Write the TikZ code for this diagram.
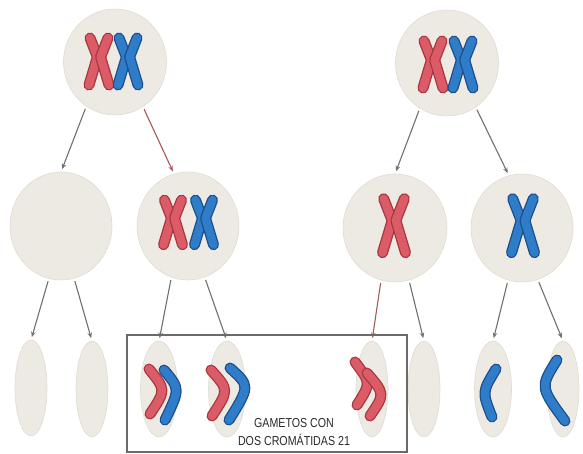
\documentclass[tikz,border=0pt]{standalone}
\usepackage{fontspec}
\setmainfont{Liberation Sans}
\usetikzlibrary{shapes.geometric,arrows.meta}

\definecolor{cellfill}{HTML}{EDEAE4}
\definecolor{cellline}{HTML}{E0DCD4}
\definecolor{redcore}{HTML}{DB5C66}
\definecolor{rededge}{HTML}{A9363F}
\definecolor{bluecore}{HTML}{2F7DC8}
\definecolor{blueedge}{HTML}{1C4E8C}
\definecolor{arrowgray}{HTML}{707070}
\definecolor{arrowred}{HTML}{A65A5A}
\definecolor{boxline}{HTML}{6A6A6A}
\definecolor{labeltext}{HTML}{2A2A2A}

\tikzset{
  cell/.style={ellipse, fill=cellfill, draw=cellline, line width=0.6pt, inner sep=0pt, outer sep=0pt},
  cellround/.style={cell, minimum width=103, minimum height=106},
  gamete/.style={cell, minimum width=32, minimum height=96},
  widegamete/.style={cell, minimum width=37, minimum height=96},
  arr/.style={draw=arrowgray, line width=1.1pt, -{Stealth[length=5.5pt,width=4.5pt]}, shorten <=3pt, shorten >=3pt},
  redarr/.style={arr, draw=arrowred},
  red edge/.style={draw=rededge, line width=11pt, line cap=round, line join=round},
  red core/.style={draw=redcore, line width=8.4pt, line cap=round, line join=round},
  blue edge/.style={draw=blueedge, line width=11pt, line cap=round, line join=round},
  blue core/.style={draw=bluecore, line width=8.4pt, line cap=round, line join=round},
  gamebox/.style={draw=boxline, line width=1.6pt},
  caption/.style={text=labeltext, font=\fontsize{13}{15}\selectfont, xscale=0.82, align=center, inner sep=0pt}
}

% one chromatid: dark rim, then its coloured body
\newcommand\strand[2]{\draw[#1 edge] #2; \draw[#1 core] #2;}
% a duplicated chromosome: two chromatids joined at the centromere
\newcommand\chromX[3]{%
  \begin{scope}[shift={#1}, scale=#3]
    \strand{#2}{(-9,-22) -- (-1.6,-3) -- (-10,25)}
    \strand{#2}{(9,-22) -- (1.6,-3) -- (10,25)}
  \end{scope}}

\begin{document}
\begin{tikzpicture}[x=1pt, y=-1pt]
  \useasboundingbox (0,0) rectangle (583,454);
  \fill[white] (0,0) rectangle (583,454);

  % cells
  \node[cellround] (pa) at (115,62) {};
  \node[cellround] (pb) at (447,63) {};
  \node[cell, minimum width=102, minimum height=108] (ma) at (61,226) {};
  \node[cell, minimum width=102, minimum height=108] (mb) at (188,226) {};
  \node[cell, minimum width=104, minimum height=108] (mc) at (395,228) {};
  \node[cell, minimum width=102, minimum height=108] (md) at (522,228) {};
  \node[gamete] (g1) at (31,388) {};
  \node[gamete] (g2) at (92,389) {};
  \node[widegamete] (g3) at (159,389) {};
  \node[widegamete] (g4) at (227,389) {};
  \node[gamete] (g5) at (372,389) {};
  \node[gamete] (g6) at (424,389) {};
  \node[widegamete] (g7) at (493,389) {};
  \node[gamete] (g8) at (563,389) {};

  % chromosomes in the dividing cells
  \chromX{(99,60)}{red}{1}
  \chromX{(128,60)}{blue}{1}
  \chromX{(433,63)}{red}{1}
  \chromX{(463,63)}{blue}{1}
  \chromX{(173,221)}{red}{0.95}
  \chromX{(204,221)}{blue}{0.95}
  \chromX{(394,224)}{red}{1.15}
  \chromX{(523,224)}{blue}{1.15}

  % single chromatids in the gametes
  \strand{red}{(149,369) .. controls (166,390) .. (150,414)}
  \strand{blue}{(164,370) .. controls (180,389) .. (165,420)}
  \strand{red}{(211,370) .. controls (229,390) .. (212,416)}
  \strand{blue}{(230,368) .. controls (250,386) .. (229,420)}
  \strand{red}{(355,362) .. controls (371,383) .. (357,405)}
  \strand{red}{(367,373) .. controls (385,394) .. (370,416)}
  \strand{blue}{(496,369) .. controls (482,392) .. (492,417)}
  \strand{blue}{(557,360) .. controls (540,387) .. (565,421)}

  % divisions
  \draw[arr] (pa.237) -- (ma.north);
  \draw[redarr] (pa.302) -- (mb.105);
  \draw[arr] (pb.239) -- (mc.north);
  \draw[arr] (pb.303) -- (md.104);
  \draw[arr] (ma.257) -- (g1.north);
  \draw[arr] (ma.284) -- (g2.north);
  \draw[arr] (mb.252) -- (g3.north);
  \draw[arr] (mb.288) -- (g4.north);
  \draw[redarr] (mc.255) -- (g5.north);
  \draw[arr] (mc.285) -- (g6.north);
  \draw[arr] (md.255) -- (g7.north);
  \draw[arr] (md.287) -- (g8.north);

  % gametes carrying two chromatids 21
  \draw[gamebox] (127,335) rectangle (407,452);
  \node[caption] (lab) at (294,432) {GAMETOS CON\\[3pt]DOS CROMÁTIDAS 21};
\end{tikzpicture}
\end{document}
